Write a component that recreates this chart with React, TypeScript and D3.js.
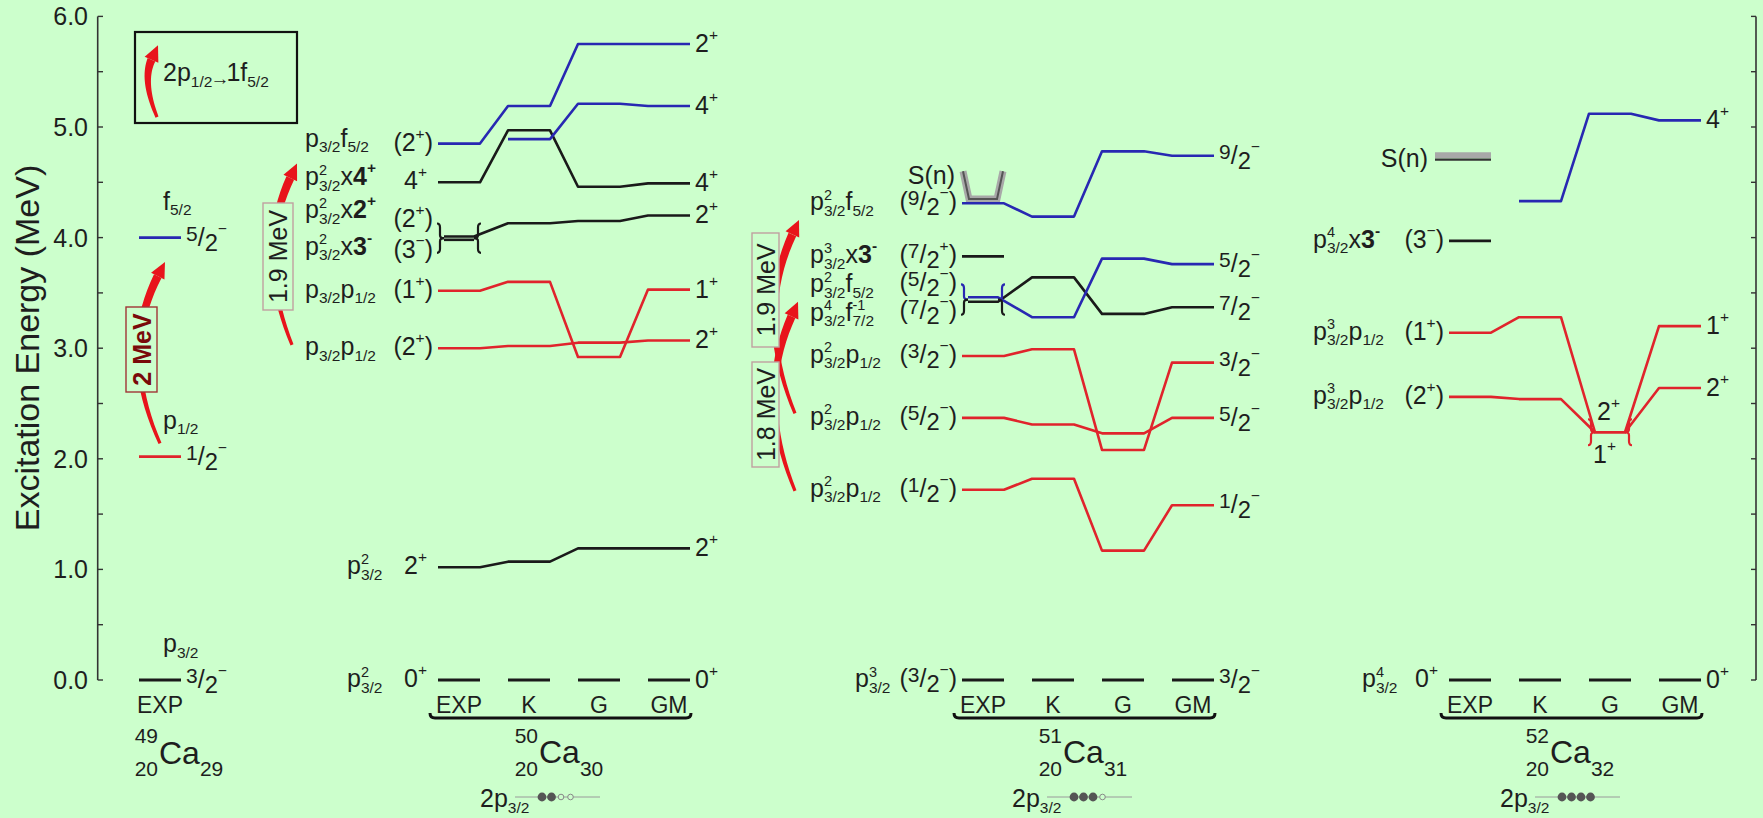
import React from "react";
import * as d3 from "d3";

const W = 1763;
const H = 818;
const BG = "#ccffcc";
const FONT = "'Liberation Sans', Arial, Helvetica, sans-serif";
const INK = "#1e1e1e";
const ARROW_RED = "#e8141b";

const methods = ["EXP", "K", "G", "GM"];
const yTicks = d3.range(0, 6.001, 0.5);
const yTickLabels = ["0.0", "1.0", "2.0", "3.0", "4.0", "5.0", "6.0"];

// level energies in MeV, columns EXP, K, G, GM (null = no level)
const ca49Levels = [
  { kind: "c", E: [0], orb: "p_{3/2}", right: "~{3}{2}^{−}" },
  { kind: "p", E: [2.02], orb: "p_{1/2}", right: "~{1}{2}^{−}" },
  { kind: "f", E: [4.0], orb: "f_{5/2}", right: "~{5}{2}^{−}" },
];

const ca50Levels = [
  { kind: "c", E: [0, 0, 0, 0], config: "p^_{2}{3/2}", spin: "0^{+}", right: "0^{+}", ground: true },
  { kind: "c", E: [1.02, 1.07, 1.19, 1.19], config: "p^_{2}{3/2}", spin: "2^{+}", right: "2^{+}" },
  { kind: "p", E: [3.0, 3.02, 3.05, 3.07], config: "p_{3/2}p_{1/2}", spin: "(2^{+})", right: "2^{+}" },
  { kind: "p", E: [3.52, 3.6, 2.92, 3.53], config: "p_{3/2}p_{1/2}", spin: "(1^{+})", right: "1^{+}" },
  { kind: "c", E: [3.98, null, null, null], config: "p^_{2}{3/2}x*3^{-}*", spin: "(3^{−})" },
  { kind: "c", E: [4.01, 4.13, 4.15, 4.2], config: "p^_{2}{3/2}x*2^{+}*", spin: "(2^{+})", right: "2^{+}" },
  { kind: "c", E: [4.5, 4.97, 4.46, 4.49], config: "p^_{2}{3/2}x*4^{+}*", spin: "4^{+}", right: "4^{+}" },
  { kind: "f", E: [4.85, 5.19, 5.75, 5.75], config: "p_{3/2}f_{5/2}", spin: "(2^{+})", right: "2^{+}" },
  { kind: "f", E: [null, 4.89, 5.21, 5.19], right: "4^{+}" },
];
const ca50ConfigX = [347, 347, 305, 305, 305, 305, 305, 305, 0];
const ca50Shift = [[0, 0], [0, 0], [0, 0], [0, 0], [8, 11], [-25, -16], [-4, 0], [-4, 0], [0, 0]];

const ca51Levels = [
  { kind: "c", E: [0, 0, 0, 0], config: "p^_{3}{3/2}", spin: "(~{3}{2}^{−})", right: "~{3}{2}^{−}", ground: true },
  { kind: "p", E: [1.72, 1.82, 1.17, 1.58], config: "p^_{2}{3/2}p_{1/2}", spin: "(~{1}{2}^{−})", right: "~{1}{2}^{−}" },
  { kind: "p", E: [2.37, 2.31, 2.23, 2.37], config: "p^_{2}{3/2}p_{1/2}", spin: "(~{5}{2}^{−})", right: "~{5}{2}^{−}" },
  { kind: "p", E: [2.93, 2.99, 2.08, 2.87], config: "p^_{2}{3/2}p_{1/2}", spin: "(~{3}{2}^{−})", right: "~{3}{2}^{−}" },
  { kind: "c", E: [3.42, 3.64, 3.31, 3.37], config: "p^_{4}{3/2}f^_{-1}{7/2}", spin: "(~{7}{2}^{−})", right: "~{7}{2}^{−}" },
  { kind: "f", E: [3.46, 3.28, 3.81, 3.76], config: "p^_{2}{3/2}f_{5/2}", spin: "(~{5}{2}^{−})", right: "~{5}{2}^{−}" },
  { kind: "c", E: [3.83, null, null, null], config: "p^_{3}{3/2}x*3^{-}*", spin: "(~{7}{2}^{+})" },
  { kind: "f", E: [4.31, 4.19, 4.78, 4.74], config: "p^_{2}{3/2}f_{5/2}", spin: "(~{9}{2}^{−})", right: "~{9}{2}^{−}" },
];
const ca51ConfigX = [855, 810, 810, 810, 810, 810, 810, 810];
const ca51Shift = [[0, 0], [0, 0], [0, 0], [0, 0], [12, 10], [-12, -13], [0, 0], [0, 0]];

const ca52Levels = [
  { kind: "c", E: [0, 0, 0, 0], config: "p^_{4}{3/2}", spin: "0^{+}", right: "0^{+}", ground: true },
  { kind: "p", E: [2.56, 2.54, 2.24, 2.64], config: "p^_{3}{3/2}p_{1/2}", spin: "(2^{+})", right: "2^{+}" },
  { kind: "p", E: [3.14, 3.28, 2.24, 3.2], config: "p^_{3}{3/2}p_{1/2}", spin: "(1^{+})", right: "1^{+}" },
  { kind: "c", E: [3.97, null, null, null], config: "p^_{4}{3/2}x*3^{-}*", spin: "(3^{−})" },
  { kind: "f", E: [null, 4.33, 5.12, 5.06], right: "4^{+}" },
];
const ca52ConfigX = [1362, 1313, 1313, 1313, 0];
const ca52Shift = [[0, 0], [0, 0], [0, 0], [0, 0], [0, 0]];

// neutron separation energies (MeV)
const ca51Sn = [4.35, 4.6];
const ca52Sn = [4.705, 4.745];

// 2p3/2 occupancy
const ca50Occ = [1, 1, 0, 0];
const ca51Occ = [1, 1, 1, 0];
const ca52Occ = [1, 1, 1, 1];

const kindColor: Record<string, string> = { p: "#e0242c", f: "#2828b2", c: "#1a1a1a" };

// ---------- rich text (sub/superscripts) ----------
type Run = { t: string; size: number; off: number; bold: boolean; dx?: number };
const CW: Record<string, number> = { "/": 0.278, "−": 0.584, "+": 0.584, "-": 0.333 };
const textW = (s: string, size: number) =>
  s.split("").reduce((a, c) => a + (CW[c] ?? 0.556) * size, 0);
const TOK = /\^_\{([^}]*)\}\{([^}]*)\}|~\{([^}]*)\}\{([^}]*)\}|\^\{([^}]*)\}|_\{([^}]*)\}|\*|[^^_~*]+/g;

function parseRich(src: string, B: number): Run[] {
  const runs: Run[] = [];
  let bold = false;
  for (const m of src.matchAll(TOK)) {
    if (m[0] === "*") { bold = !bold; continue; }
    if (m[1] !== undefined) {
      runs.push({ t: m[1], size: 0.58 * B, off: -0.42 * B, bold });
      runs.push({ t: m[2], size: 0.62 * B, off: 0.22 * B, bold, dx: -textW(m[1], 0.58 * B) });
    } else if (m[3] !== undefined) {
      runs.push({ t: m[3], size: 0.84 * B, off: -0.2 * B, bold });
      runs.push({ t: "/", size: B, off: 0, bold });
      runs.push({ t: m[4], size: 0.95 * B, off: 0.2 * B, bold });
    } else if (m[5] !== undefined) {
      runs.push({ t: m[5], size: 0.62 * B, off: -0.48 * B, bold });
    } else if (m[6] !== undefined) {
      runs.push({ t: m[6], size: 0.62 * B, off: 0.22 * B, bold });
    } else {
      runs.push({ t: m[0], size: B, off: 0, bold });
    }
  }
  return runs;
}

function Rich({ x, y, s, size = 25, anchor = "start", fill = INK }: any) {
  const runs = parseRich(s, size);
  let cur = 0;
  return (
    <text x={x} y={y} fontSize={size} textAnchor={anchor} fill={fill} fontFamily={FONT}>
      {runs.map((r, i) => {
        const dy = r.off - cur;
        cur = r.off;
        return (
          <tspan key={i} dy={dy} dx={r.dx} fontSize={r.size} fontWeight={r.bold ? "bold" : undefined}>
            {r.t}
          </tspan>
        );
      })}
    </text>
  );
}

function bracePath(x: number, yt: number, yb: number, d: number, half: "top" | "bot") {
  const ym = (yt + yb) / 2;
  const p = d3.path();
  if (half === "top") {
    p.moveTo(x - 3 * d, yt);
    p.quadraticCurveTo(x, yt, x, yt + 4);
    p.lineTo(x, ym - 3);
    p.quadraticCurveTo(x, ym, x + 4 * d, ym);
  } else {
    p.moveTo(x + 4 * d, ym);
    p.quadraticCurveTo(x, ym, x, ym + 3);
    p.lineTo(x, yb - 4);
    p.quadraticCurveTo(x, yb, x - 3 * d, yb);
  }
  return p.toString();
}

// tapered red arrow along a quadratic curve
function CurvedArrow({ x1, y1, x2, y2, cx }: any) {
  const cy = (y1 + y2) / 2;
  const ang = Math.atan2(y2 - cy, x2 - cx);
  const L = 16, Wd = 7.5;
  const bx = x2 - L * Math.cos(ang), by = y2 - L * Math.sin(ang);
  const pt = (t: number) => [
    (1 - t) * (1 - t) * x1 + 2 * (1 - t) * t * cx + t * t * bx,
    (1 - t) * (1 - t) * y1 + 2 * (1 - t) * t * cy + t * t * by,
  ];
  const tan = (t: number) => [
    2 * (1 - t) * (cx - x1) + 2 * t * (bx - cx),
    2 * (1 - t) * (cy - y1) + 2 * t * (by - cy),
  ];
  const left: number[][] = [], right: number[][] = [];
  d3.range(0, 1.0001, 0.05).forEach((t) => {
    const [px, py] = pt(t);
    const [tx, ty] = tan(t);
    const n = Math.hypot(tx, ty) || 1;
    const w = 1.6 + 2.6 * t;
    left.push([px - (ty / n) * w, py + (tx / n) * w]);
    right.push([px + (ty / n) * w, py - (tx / n) * w]);
  });
  const body = d3.line()([...left, ...right.reverse()] as [number, number][]) + "Z";
  const nx = -Math.sin(ang), ny = Math.cos(ang);
  const head = `M${x2},${y2}L${bx + Wd * nx},${by + Wd * ny}L${bx - Wd * nx},${by - Wd * ny}Z`;
  return (
    <g>
      <path d={body} fill={ARROW_RED} />
      <path d={head} fill={ARROW_RED} />
    </g>
  );
}

function TagBox({ cx, cy, w, h, text, stroke, color, bold }: any) {
  return (
    <g>
      <rect x={cx - w / 2} y={cy - h / 2} width={w} height={h} fill={BG} stroke={stroke} strokeWidth={1.4} />
      <text transform={`translate(${cx},${cy}) rotate(-90)`} textAnchor="middle" dy="0.36em"
        fontSize={25} fontFamily={FONT} fill={color} fontWeight={bold ? "bold" : undefined}>{text}</text>
    </g>
  );
}

const LW = 42;

export default function App() {
  const y = d3.scaleLinear().domain([0, 6]).range([680, 16.4]);

  const panels = [
    { A: "50", Z: "20", N: "30", levels: ca50Levels, x0: 438, cfgX: ca50ConfigX, shift: ca50Shift,
      doublets: [{ col: 0, a: 4, b: 5, labels: [] as string[] }], occ: ca50Occ, occX: 480 },
    { A: "51", Z: "20", N: "31", levels: ca51Levels, x0: 962, cfgX: ca51ConfigX, shift: ca51Shift,
      doublets: [{ col: 0, a: 4, b: 5, labels: [] as string[] }], occ: ca51Occ, occX: 1012 },
    { A: "52", Z: "20", N: "32", levels: ca52Levels, x0: 1449, cfgX: ca52ConfigX, shift: ca52Shift,
      doublets: [{ col: 2, a: 1, b: 2, labels: ["2^{+}", "1^{+}"] }], occ: ca52Occ, occX: 1500 },
  ];

  const renderPanel = (pn: any, pi: number) => {
    const cx = d3.scaleLinear().domain([0, 3]).range([pn.x0, pn.x0 + 210]);
    const inset = (li: number, col: number) =>
      pn.doublets.some((d: any) => d.col === col && (d.a === li || d.b === li)) ? 6 : 0;
    const line = d3.line();
    const paths: any[] = [];
    pn.levels.forEach((lv: any, li: number) => {
      let pts: [number, number][] = [];
      const segs: [number, number][][] = [];
      lv.E.forEach((e: number | null, i: number) => {
        if (e == null) { if (pts.length) segs.push(pts); pts = []; return; }
        const ins = inset(li, i);
        pts.push([cx(i) + ins, y(e)], [cx(i) + LW - ins, y(e)]);
        if (lv.ground) { segs.push(pts); pts = []; }
      });
      if (pts.length) segs.push(pts);
      segs.forEach((s, si) =>
        paths.push(<path key={`${li}-${si}`} d={line(s) as string} fill="none" stroke={kindColor[lv.kind]}
          strokeWidth={lv.ground ? 3.2 : 2.6} strokeLinejoin="round" />));
    });

    const braces = pn.doublets.map((d: any, di: number) => {
      const la = pn.levels[d.a], lb = pn.levels[d.b];
      const ea = la.E[d.col], eb = lb.E[d.col];
      const upper = ea >= eb ? la : lb, lower = ea >= eb ? lb : la;
      const yt = Math.min(y(ea), y(eb)) - 13, yb = Math.max(y(ea), y(eb)) + 13;
      const xl = cx(d.col) + 2, xr = cx(d.col) + LW - 2;
      const st = (k: string) => ({ fill: "none", stroke: kindColor[k], strokeWidth: 2.2 });
      return (
        <g key={`b${di}`}>
          <path d={bracePath(xl, yt, yb, 1, "top")} {...st(upper.kind)} />
          <path d={bracePath(xl, yt, yb, 1, "bot")} {...st(lower.kind)} />
          <path d={bracePath(xr, yt, yb, -1, "top")} {...st(upper.kind)} />
          <path d={bracePath(xr, yt, yb, -1, "bot")} {...st(lower.kind)} />
          {d.labels.length > 0 && (
            <g>
              <Rich x={cx(d.col) + 8} y={y(ea) - 12} s={d.labels[0]} />
              <Rich x={cx(d.col) + 4} y={y(ea) + 31} s={d.labels[1]} />
            </g>
          )}
        </g>
      );
    });

    const labels = pn.levels.map((lv: any, li: number) => {
      const out: any[] = [];
      const e0 = lv.E[0];
      if (e0 != null && lv.spin) {
        const xs = lv.spin.startsWith("(") ? pn.x0 - 5 : pn.x0 - 11;
        out.push(<Rich key="s" x={xs} y={y(e0) + 7 + pn.shift[li][1]} s={lv.spin} anchor="end" />);
      }
      if (e0 != null && lv.config) {
        out.push(<Rich key="c" x={pn.cfgX[li]} y={y(e0) + 7 + pn.shift[li][0]} s={lv.config} />);
      }
      const e3 = lv.E[3];
      if (e3 != null && lv.right) {
        out.push(<Rich key="r" x={pn.x0 + 257} y={y(e3) + 8} s={lv.right} />);
      }
      return <g key={li}>{out}</g>;
    });

    const x0 = pn.x0;
    const bp = d3.path();
    bp.moveTo(x0 - 8, 713);
    bp.quadraticCurveTo(x0 - 8, 718, x0 - 3, 718);
    bp.lineTo(x0 + 248, 718);
    bp.quadraticCurveTo(x0 + 253, 718, x0 + 253, 713);

    return (
      <g key={pi}>
        {paths}
        {braces}
        {labels}
        {methods.map((m, i) => (
          <text key={m} x={cx(i) + LW / 2} y={713} textAnchor="middle" fontSize={23} fontFamily={FONT} fill={INK}>{m}</text>
        ))}
        <path d={bp.toString()} fill="none" stroke="#111" strokeWidth={3} />
        <text x={x0 + 100} y={743} textAnchor="end" fontSize={21} fontFamily={FONT} fill={INK}>{pn.A}</text>
        <text x={x0 + 100} y={776} textAnchor="end" fontSize={21} fontFamily={FONT} fill={INK}>{pn.Z}</text>
        <text x={x0 + 101} y={763} fontSize={32} fontFamily={FONT} fill={INK}>
          Ca<tspan dy={13} fontSize={21}>{pn.N}</tspan>
        </text>
        <Rich x={pn.occX} y={807} s="2p_{3/2}" />
        <line x1={pn.occX + 35} x2={pn.occX + 120} y1={797} y2={797} stroke="#9a9a9a" strokeWidth={1} />
        {pn.occ.map((o: number, k: number) =>
          o ? <circle key={k} cx={pn.occX + 62 + k * 9.5} cy={797} r={4.4} fill="#555" />
            : <circle key={k} cx={pn.occX + 62 + k * 9.5} cy={797} r={2.8} fill={BG} stroke="#888" strokeWidth={1} />)}
      </g>
    );
  };

  // 49Ca single column
  const x49 = 139;

  return (
    <svg width={W} height={H} style={{ position: "absolute", left: 0, top: 0 }} fontFamily={FONT}>
      <rect width={W} height={H} fill={BG} />

      {/* axes */}
      <line x1={97.7} x2={97.7} y1={y(0)} y2={y(6)} stroke="#333" strokeWidth={1.6} />
      <line x1={1756} x2={1756} y1={y(0)} y2={y(6)} stroke="#333" strokeWidth={1.6} />
      {yTicks.map((t) => (
        <g key={t}>
          <line x1={97.7} x2={103} y1={y(t)} y2={y(t)} stroke="#333" strokeWidth={1.4} />
          <line x1={1751} x2={1756} y1={y(t)} y2={y(t)} stroke="#333" strokeWidth={1.4} />
        </g>
      ))}
      {yTickLabels.map((s, i) => (
        <text key={s} x={88} y={y(i) + 9} textAnchor="end" fontSize={25} fontFamily={FONT} fill={INK}>{s}</text>
      ))}
      <text transform="translate(27,348) rotate(-90)" textAnchor="middle" dy="0.35em" fontSize={34}
        fontFamily={FONT} fill={INK}>Excitation Energy (MeV)</text>

      {/* 49Ca */}
      {ca49Levels.map((lv, i) => (
        <g key={i}>
          <line x1={x49} x2={x49 + LW} y1={y(lv.E[0])} y2={y(lv.E[0])} stroke={kindColor[lv.kind]}
            strokeWidth={lv.kind === "c" ? 3.2 : 2.6} />
          <Rich x={x49 + 24} y={y(lv.E[0]) - 28} s={lv.orb} />
          <Rich x={x49 + 47} y={y(lv.E[0]) + 8} s={lv.right} />
        </g>
      ))}
      <text x={x49 + 21} y={713} textAnchor="middle" fontSize={23} fontFamily={FONT} fill={INK}>EXP</text>
      <text x={158} y={743} textAnchor="end" fontSize={21} fontFamily={FONT} fill={INK}>49</text>
      <text x={158} y={776} textAnchor="end" fontSize={21} fontFamily={FONT} fill={INK}>20</text>
      <text x={159} y={764} fontSize={32} fontFamily={FONT} fill={INK}>
        Ca<tspan dy={12} fontSize={21}>29</tspan>
      </text>

      {/* legend box */}
      <rect x={135} y={32} width={162} height={91} fill="none" stroke="#111" strokeWidth={2.2} />
      <text x={163} y={81} fontSize={25} fontFamily={FONT} fill={INK}>
        2p<tspan dy={5.5} fontSize={15.5}>1/2</tspan>
        <tspan dy={-2} dx={-2} fontSize={19}>→</tspan>
        <tspan dy={-3.5} dx={-3}>1f</tspan>
        <tspan dy={5.5} fontSize={15.5}>5/2</tspan>
      </text>
      <CurvedArrow x1={157} y1={y(5.09)} x2={158} y2={y(5.74)} cx={142} />

      {/* gap arrows */}
      <CurvedArrow x1={160} y1={y(2.14)} x2={165} y2={y(3.78)} cx={119} />
      <TagBox cx={141.5} cy={349.5} w={31} h={85} text="2 MeV" stroke="#a03535" color="#7a0a0a" bold />
      <CurvedArrow x1={292} y1={y(3.03)} x2={297} y2={y(4.67)} cx={255} />
      <TagBox cx={278} cy={256.5} w={30} h={107} text="1.9 MeV" stroke="#c0a0a0" color={INK} />
      <CurvedArrow x1={795} y1={y(2.41)} x2={799} y2={y(4.16)} cx={755} />
      <CurvedArrow x1={795} y1={y(1.71)} x2={798} y2={y(3.42)} cx={756} />
      <TagBox cx={765.5} cy={290} w={27} h={114} text="1.9 MeV" stroke="#c0a0a0" color={INK} />
      <TagBox cx={765.5} cy={414.5} w={27} h={105} text="1.8 MeV" stroke="#c0a0a0" color={INK} />

      {/* separation energies */}
      {(() => {
        const x0 = 962;
        const d = `M${x0 + 1},${y(ca51Sn[1])}L${x0 + 7},${y(ca51Sn[0])}L${x0 + 35},${y(ca51Sn[0])}L${x0 + 41},${y(ca51Sn[1])}`;
        return (
          <g>
            <path d={d} fill="none" stroke="#a8a8a8" strokeWidth={7} />
            <path d={d} fill="none" stroke="#555" strokeWidth={2} />
            <text x={x0 - 7} y={184} textAnchor="end" fontSize={25} fontFamily={FONT} fill={INK}>S(n)</text>
          </g>
        );
      })()}
      <line x1={1435} x2={1491} y1={y(ca52Sn[1])} y2={y(ca52Sn[1])} stroke="#a8a8a8" strokeWidth={6} />
      <line x1={1435} x2={1491} y1={y(ca52Sn[0])} y2={y(ca52Sn[0])} stroke="#333" strokeWidth={2.2} />
      <text x={1428} y={167} textAnchor="end" fontSize={25} fontFamily={FONT} fill={INK}>S(n)</text>

      {panels.map(renderPanel)}
    </svg>
  );
}
